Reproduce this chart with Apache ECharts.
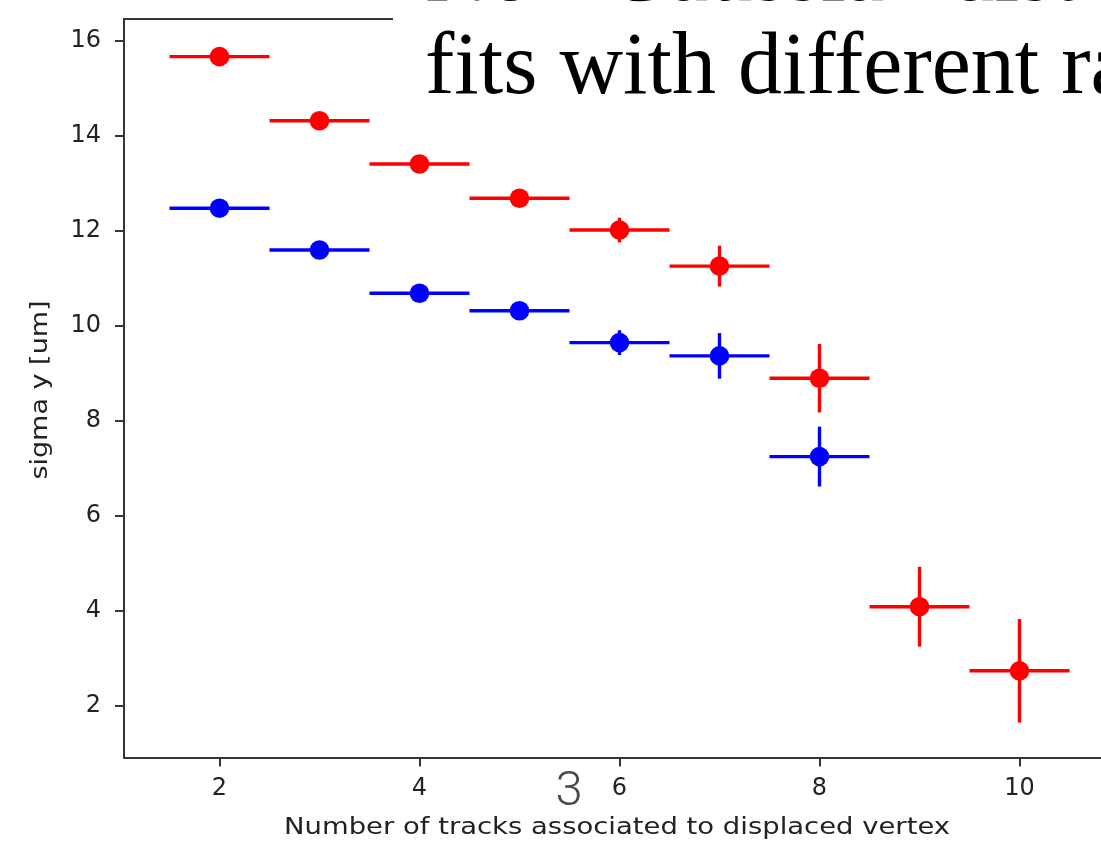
<!DOCTYPE html>
<html>
<head>
<meta charset="utf-8">
<script src="https://cdn.jsdelivr.net/npm/echarts@6/dist/echarts.min.js"></script>
<style>
  html, body { margin: 0; padding: 0; background: #ffffff; }
  #chart { width: 1101px; height: 847px; }
</style>
</head>
<body>
<div id="chart"></div>
<script>
// ---- data ----
const redX    = [2, 3, 4, 5, 6, 7, 8, 9, 10];
const redY    = [15.66, 14.31, 13.40, 12.68, 12.01, 11.25, 8.89, 4.08, 2.73];
const redErr  = [0.05, 0.05, 0.08, 0.10, 0.26, 0.43, 0.72, 0.84, 1.09];
const blueX   = [2, 3, 4, 5, 6, 7, 8];
const blueY   = [12.47, 11.59, 10.68, 10.31, 9.64, 9.36, 7.24];
const blueErr = [0.05, 0.05, 0.08, 0.10, 0.26, 0.48, 0.63];
const xHalfWidth = 0.5;
const xTickValues = [2, 4, 6, 8, 10];
const yTickValues = [2, 4, 6, 8, 10, 12, 14, 16];
const xTitle = 'Number of tracks associated to displaced vertex';
const yTitle = 'sigma y [um]';
const slideTitle1 = 'Non-Gaussian distributions';
const slideTitle2 = 'fits with different ranges';
const slideNumber = '3';

function buildData(xs, ys, errs) {
  return xs.map((x, i) => [x, ys[i], errs[i], xHalfWidth]);
}

function makeRender(color) {
  return function (params, api) {
    const x = api.value(0), y = api.value(1), e = api.value(2), xe = api.value(3);
    const c = api.coord([x, y]);
    const l = api.coord([x - xe, y]);
    const r = api.coord([x + xe, y]);
    const t = api.coord([x, y + e]);
    const b = api.coord([x, y - e]);
    return {
      type: 'group',
      children: [
        { type: 'line', shape: { x1: l[0], y1: l[1], x2: r[0], y2: r[1] },
          style: { stroke: color, lineWidth: 3.4 } },
        { type: 'line', shape: { x1: t[0], y1: t[1], x2: b[0], y2: b[1] },
          style: { stroke: color, lineWidth: 3.4 } },
        { type: 'circle', shape: { cx: c[0], cy: c[1], r: 9.8 },
          style: { fill: color } }
      ]
    };
  };
}

const spineColor = '#363636';
const textColor = '#222222';
const tickFont = 'DejaVu Sans';

const chart = echarts.init(document.getElementById('chart'), null, { renderer: 'canvas' });
chart.setOption({
  backgroundColor: '#ffffff',
  animation: false,
  grid: { left: 124, top: 19, width: 990.5, height: 738.5, containLabel: false,
          outerBoundsMode: 'none' },
  xAxis: [{
    type: 'value', min: 1.045, max: 10.95, position: 'bottom',
    axisLine: { show: true, onZero: false, lineStyle: { color: spineColor, width: 2 } },
    axisTick: { show: true, length: 9, customValues: xTickValues, lineStyle: { color: spineColor, width: 2 } },
    axisLabel: { show: true, margin: 19, customValues: xTickValues,
      fontFamily: tickFont, fontSize: 24, color: textColor },
    splitLine: { show: false }
  }, {
    type: 'value', min: 1.045, max: 10.95, position: 'top',
    axisLine: { show: true, onZero: false, lineStyle: { color: spineColor, width: 2 } },
    axisTick: { show: false }, axisLabel: { show: false }, splitLine: { show: false }
  }],
  yAxis: [{
    type: 'value', min: 0.905, max: 16.453, position: 'left',
    axisLine: { show: true, onZero: false, lineStyle: { color: spineColor, width: 2 } },
    axisTick: { show: true, length: 9, customValues: yTickValues, lineStyle: { color: spineColor, width: 2 } },
    axisLabel: { show: true, margin: 23, customValues: yTickValues,
      fontFamily: tickFont, fontSize: 24, color: textColor },
    splitLine: { show: false }
  }],
  series: [{
    type: 'custom', name: 'red', xAxisIndex: 0, yAxisIndex: 0,
    renderItem: makeRender('#ff0000'),
    data: buildData(redX, redY, redErr), clip: false, z: 3
  }, {
    type: 'custom', name: 'blue', xAxisIndex: 0, yAxisIndex: 0,
    renderItem: makeRender('#0000ff'),
    data: buildData(blueX, blueY, blueErr), clip: false, z: 3
  }],
  graphic: [
    { type: 'rect', left: 393, top: 0, z: 100,
      shape: { width: 708, height: 112 }, style: { fill: '#ffffff' } },
    { type: 'text', x: 425, y: 23.5, z: 101,
      style: { text: slideTitle1 + '\n' + slideTitle2, fontFamily: 'Liberation Serif', fontSize: 88,
        lineHeight: 93, fill: '#000000', align: 'left', verticalAlign: 'middle' } },
    { type: 'text', x: 617, y: 828, scaleX: 1.22, z: 50,
      style: { text: xTitle, fontFamily: tickFont, fontSize: 22.5, fill: textColor,
        align: 'center', verticalAlign: 'middle' } },
    { type: 'text', x: 41, y: 390, rotation: Math.PI / 2, scaleX: 1.2, z: 50,
      style: { text: yTitle, fontFamily: tickFont, fontSize: 22.5, fill: textColor,
        align: 'center', verticalAlign: 'middle' } },
    { type: 'text', x: 569, y: 793, z: 60,
      style: { text: slideNumber, fontFamily: 'Roboto', fontWeight: 300, fontSize: 49,
        fill: '#4a4a4a', align: 'center', verticalAlign: 'middle' } }
  ]
});
</script>
</body>
</html>
